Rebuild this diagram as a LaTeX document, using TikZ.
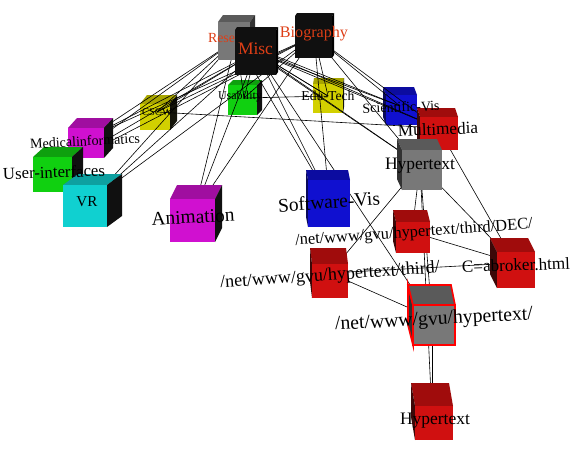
\documentclass[tikz,border=0pt]{standalone}
\usepackage{fontspec}
\setmainfont{Liberation Serif}
\usepackage{graphicx}
\definecolor{labelred}{RGB}{222,62,22}
\definecolor{yelF}{RGB}{210,208,0}\definecolor{yelT}{RGB}{168,166,0}\definecolor{yelS}{RGB}{20,20,10}
\definecolor{magF}{RGB}{208,16,208}\definecolor{magT}{RGB}{160,14,160}\definecolor{magS}{RGB}{16,16,16}
\definecolor{grnF}{RGB}{16,208,16}\definecolor{grnT}{RGB}{14,160,14}\definecolor{grnS}{RGB}{16,16,16}
\definecolor{cyaF}{RGB}{16,208,208}\definecolor{cyaT}{RGB}{14,160,160}\definecolor{cyaS}{RGB}{16,16,16}
\definecolor{bluF}{RGB}{16,16,208}\definecolor{bluT}{RGB}{12,12,160}\definecolor{bluS}{RGB}{10,10,90}
\definecolor{redF}{RGB}{208,16,16}\definecolor{redT}{RGB}{160,12,12}\definecolor{redS}{RGB}{60,8,8}
\definecolor{gryF}{RGB}{120,120,120}\definecolor{gryT}{RGB}{90,90,90}\definecolor{gryS}{RGB}{50,50,50}
\definecolor{blkF}{RGB}{16,16,16}\definecolor{blkT}{RGB}{16,16,16}\definecolor{blkS}{RGB}{0,0,0}
\newcommand{\cubeR}[7]{%
  \fill[#7T] (#1,#4) -- (#2,#4) -- ({#2+(#6)},#3) -- ({#1+(#6)},#3) -- cycle;
  \fill[#7S] (#2,#4) -- ({#2+(#6)},#3) -- ({#2+(#6)},{#5-#4+#3}) -- (#2,#5) -- cycle;
  \fill[#7F] (#1,#4) rectangle (#2,#5);}
\newcommand{\cubeL}[7]{%
  \fill[#7T] (#1,#4) -- (#2,#4) -- ({#2+(#6)},#3) -- ({#1+(#6)},#3) -- cycle;
  \fill[#7S] (#1,#4) -- ({#1+(#6)},#3) -- ({#1+(#6)},{#5-#4+#3}) -- (#1,#5) -- cycle;
  \fill[#7F] (#1,#4) rectangle (#2,#5);}
\tikzset{
  edge/.style={draw=black, line width=0.6pt},
  lbl/.style={inner sep=0pt, text=black},
  toplbl/.style={inner sep=0pt, text=labelred}
}
\begin{document}
\begin{tikzpicture}[x=1pt,y=-1pt]
\useasboundingbox (0,0) rectangle (582,456);
\fill[white] (0,0) rectangle (582,456);
% cube centres
\coordinate (R) at (236,40);
\coordinate (M) at (256,52);
\coordinate (B) at (314,36);
\coordinate (CS) at (157,112);
\coordinate (MI) at (88,138);
\coordinate (UI) at (55,170);
\coordinate (VR) at (92,200);
\coordinate (AN) at (194,213);
\coordinate (US) at (244,98);
\coordinate (ET) at (328,96);
\coordinate (SV) at (400,106);
\coordinate (MM) at (438,128);
\coordinate (HT) at (420,165);
\coordinate (SW) at (329,198);
\coordinate (DEC) at (412,232);
\coordinate (TH) at (330,273);
\coordinate (CA) at (515,263);
\coordinate (NH) at (432,318);
\coordinate (HB) at (432,415);
% cubes behind the connectors
\cubeR{140}{170}{95}{104}{130}{7}{yel}
\cubeR{228}{257}{80}{85}{115}{5}{grn}
\cubeR{313}{343}{78}{84}{113}{1}{yel}
\cubeL{386}{417}{87}{95}{125}{-3}{blu}
% connectors
\foreach \s in {R,M,B}{
  \foreach \t in {CS,MI,UI,VR,AN,US,ET,SV,MM,HT,SW}{
    \draw[edge] (\s) -- (\t);
  }
}
\draw[edge] (US) -- (ET);
\draw[edge] (CS) -- (MM);
\draw[edge] (HT) -- (DEC);
\draw[edge] (HT) -- (TH);
\draw[edge] (HT) -- (CA);
\draw[edge] (HT) -- (NH);
\draw[edge] (HT) -- (HB);
\draw[edge] (MM) -- (CA);
\draw[edge] (TH) -- (CA);
\draw[edge] (TH) -- (NH);
\draw[edge] (DEC) -- (CA);
\draw[edge] (NH) -- (HB);
\draw[edge] (M) -- (NH);
% top cubes
\cubeR{295}{332}{13}{16}{58}{2}{blk}
\cubeR{218}{250}{15}{22}{60}{5}{gry}
\node[toplbl] (lR) at (233.5,38) {\resizebox{51pt}{!}{Research}};
\cubeR{235}{276}{27}{30}{75}{2}{blk}
% front cubes
\cubeR{68}{104}{118}{128}{158}{9}{mag}
\cubeR{33}{72}{147}{157}{192}{11}{grn}
\cubeR{63}{107}{174}{185}{227}{15}{cya}
\cubeR{170}{215}{185}{199}{242}{7}{mag}
\cubeL{420}{458}{108}{117}{150}{-3}{red}
\cubeL{402}{442}{139}{150}{190}{-5}{gry}
\cubeL{308}{350}{170}{180}{227}{-2}{blu}
\cubeL{396}{430}{210}{222}{253}{-3}{red}
\cubeL{312}{348}{248}{264}{298}{-2}{red}
\cubeL{497}{535}{238}{252}{288}{-7}{red}
\begin{scope}
\draw[red, line width=1.6pt, fill=gryS] (413,305) -- (408,285) -- (408,325) -- (413,345) -- cycle;
\draw[red, line width=1.6pt, fill=gryT] (413,305) -- (455,305) -- (451,285) -- (408,285) -- cycle;
\draw[red, line width=1.6pt, fill=gryF] (413,305) rectangle (455,345);
\end{scope}
\cubeL{415}{453}{383}{406}{440}{-4}{red}
% labels
\node[toplbl] (lM) at (255.5,49) {\resizebox{35pt}{!}{Misc}};
\node[toplbl] (lB) at (314,34) {\resizebox{68pt}{!}{Biography}};
\node[lbl] (lCS) at (157,112) {\resizebox{30pt}{!}{CSCW}};
\node[lbl, rotate=3] (lMI) at (85,141) {\resizebox{110pt}{!}{Medicalinformatics}};
\node[lbl, rotate=2] (lUI) at (54,172) {\resizebox{102pt}{!}{User-interfaces}};
\node[lbl] (lVR) at (87,202) {\resizebox{21pt}{!}{VR}};
\node[lbl, rotate=3] (lAN) at (193,217) {\resizebox{83pt}{!}{Animation}};
\node[lbl] (lUS) at (240,97) {\resizebox{44pt}{!}{Usability}};
\node[lbl] (lET) at (328,96) {\resizebox{53pt}{!}{Edu-Tech}};
\node[lbl, rotate=2] (lSV) at (401,107) {\resizebox{77pt}{!}{Scientific-Vis}};
\node[lbl, rotate=2] (lMM) at (438,129) {\resizebox{80pt}{!}{Multimedia}};
\node[lbl] (lHT) at (420,166) {\resizebox{70pt}{!}{Hypertext}};
\node[lbl, rotate=4] (lSW) at (329,202) {\resizebox{102pt}{!}{Software-Vis}};
\node[lbl, rotate=4] (lDEC) at (414,233) {\resizebox{238pt}{!}{/net/www/gvu/hypertext/third/DEC/}};
\node[lbl, rotate=4] (lTH) at (330,276) {\resizebox{220pt}{!}{/net/www/gvu/hypertext/third/}};
\node[lbl, rotate=2] (lCA) at (516,265) {\resizebox{108pt}{!}{C=abroker.html}};
\node[lbl, rotate=3] (lNH) at (434,320) {\resizebox{198pt}{!}{/net/www/gvu/hypertext/}};
\node[lbl] (lHB) at (435,421) {\resizebox{70pt}{!}{Hypertext}};
\end{tikzpicture}
\end{document}
